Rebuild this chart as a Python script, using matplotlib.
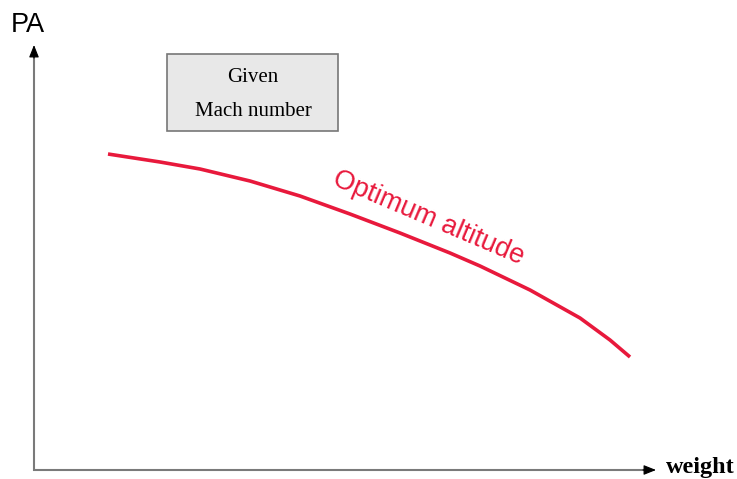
import matplotlib
matplotlib.use("Agg")
import matplotlib.pyplot as plt
from matplotlib.patches import Rectangle

# Curve data (in canvas units: x = weight, y = screen-down position)
weight = [108, 160, 200, 250, 300, 350, 400, 450, 480, 530, 580, 610, 630]
pa = [154, 162, 169, 181, 196, 214, 233, 253, 266, 290, 318, 340, 357]

curve_label = "Optimum altitude"
box_lines = ["Given", "Mach number"]
x_label = "weight"
y_label = "PA"

W, H = 737, 479
fig = plt.figure(figsize=(W / 100, H / 100), dpi=100)
ax = fig.add_axes([0, 0, 1, 1])
ax.set_xlim(0, W)
ax.set_ylim(H, 0)
ax.axis("off")

red = "#E8193C"
gray = "#7a7a7a"

# axes lines
ax.plot([34, 34], [471, 52], color=gray, lw=1.5, solid_capstyle="butt")
ax.plot([33, 650], [470, 470], color=gray, lw=1.5, solid_capstyle="butt")
# arrowheads
head = dict(arrowstyle="-|>,head_length=0.75,head_width=0.3", color="black", lw=0.8,
            shrinkA=0, shrinkB=0)
ax.annotate("", xy=(34, 45), xytext=(34, 58), arrowprops=head)
ax.annotate("", xy=(656, 470), xytext=(643, 470), arrowprops=head)

ax.text(28, 25, y_label, fontsize=19.5, family="Liberation Sans", ha="center", va="center")
ax.text(700, 468, x_label, fontsize=17.5, family="Liberation Serif", weight="bold",
        ha="center", va="center")

# curve
ax.plot(weight, pa, color=red, lw=2.6, solid_capstyle="butt", solid_joinstyle="round")
ax.text(428, 218, curve_label, fontsize=19.5, family="Liberation Sans", color=red,
        rotation=-23, ha="center", va="center", rotation_mode="anchor")

# box
ax.add_patch(Rectangle((167, 54), 171, 77, facecolor="#E8E8E8", edgecolor="#777777", lw=1.2))
ax.text(253, 77, box_lines[0], fontsize=15, family="Liberation Serif", ha="center", va="center")
ax.text(253, 111, box_lines[1], fontsize=15, family="Liberation Serif", ha="center", va="center")

fig.savefig("out.png", dpi=100)
